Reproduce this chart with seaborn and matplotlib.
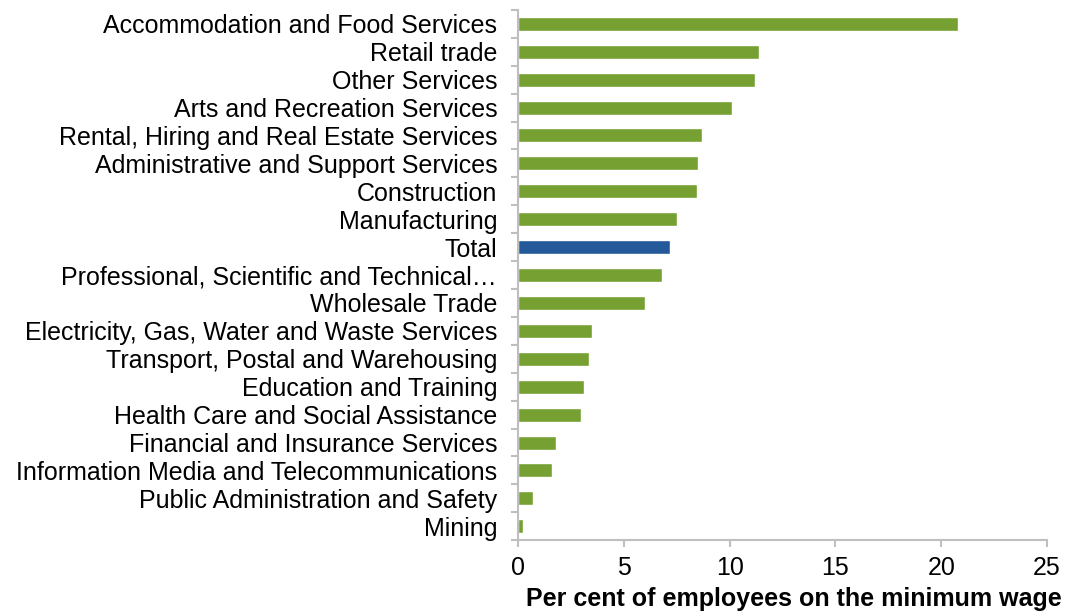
import matplotlib.pyplot as plt
import numpy as np
import pandas as pd
import seaborn as sns

# data
industries = [
    "Accommodation and Food Services",
    "Retail trade",
    "Other Services",
    "Arts and Recreation Services",
    "Rental, Hiring and Real Estate Services",
    "Administrative and Support Services",
    "Construction",
    "Manufacturing",
    "Total",
    "Professional, Scientific and Technical…",
    "Wholesale Trade",
    "Electricity, Gas, Water and Waste Services",
    "Transport, Postal and Warehousing",
    "Education and Training",
    "Health Care and Social Assistance",
    "Financial and Insurance Services",
    "Information Media and Telecommunications",
    "Public Administration and Safety",
    "Mining",
]
share = [20.8, 11.4, 11.2, 10.1, 8.7, 8.5, 8.45, 7.5, 7.2, 6.8, 6.0,
         3.5, 3.35, 3.1, 3.0, 1.8, 1.6, 0.7, 0.25]

GREEN = "#76a132"
BLUE = "#245a9a"
AXIS_GREY = "#bfbfbf"
FS = 18

df = pd.DataFrame({"industry": industries, "share": share})
palette = {k: (BLUE if k == "Total" else GREEN) for k in industries}

sns.set_style("white")
plt.rcParams["font.family"] = ["Liberation Sans", "DejaVu Sans"]

fig = plt.figure(figsize=(10.65, 6.16), dpi=100)
ax = fig.add_axes([0.4864, 0.123, 0.4967, 0.861])

sns.barplot(data=df, x="share", y="industry", hue="industry", palette=palette,
            legend=False, width=0.5, saturation=1, ax=ax)

ax.set_xlim(0, 25)
ax.set_ylim(len(industries) - 0.5, -0.5)
ax.set_xticks(np.arange(0, 26, 5))
ax.set_ylabel("")
ax.set_xlabel("Per cent of employees on the minimum wage", fontsize=FS,
              fontweight="bold", color="black")
ax.xaxis.set_label_coords(0.522, -0.088)

# category boundary ticks, Excel style
ax.set_yticks(np.arange(-0.5, len(industries), 1), minor=True)
ax.tick_params(axis="y", which="major", left=False, length=0,
               labelsize=FS, labelcolor="black", pad=15)
ax.tick_params(axis="y", which="minor", left=True, length=5,
               color=AXIS_GREY, width=1.5)
ax.tick_params(axis="x", which="major", bottom=True, length=5,
               color=AXIS_GREY, width=1.5, labelsize=FS,
               labelcolor="black", pad=6)

for side in ["top", "right"]:
    ax.spines[side].set_visible(False)
for side in ["left", "bottom"]:
    ax.spines[side].set_color(AXIS_GREY)
    ax.spines[side].set_linewidth(1.5)

fig.savefig("out.png", dpi=100)
